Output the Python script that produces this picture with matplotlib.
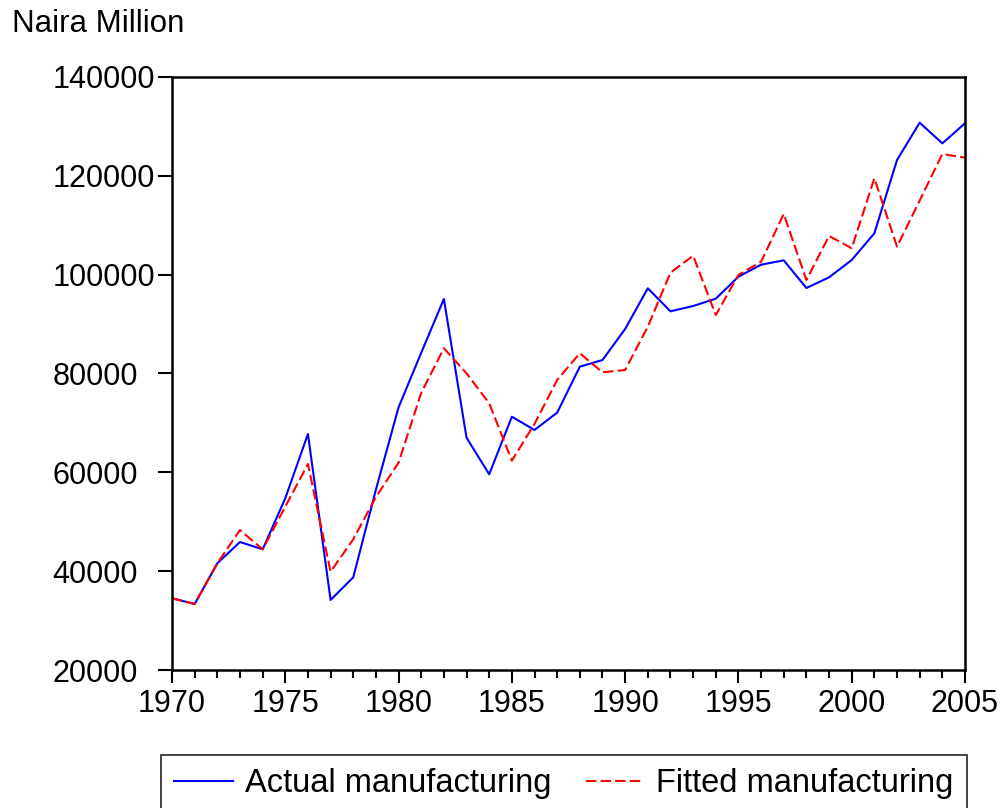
import matplotlib
matplotlib.use('Agg')
import matplotlib.pyplot as plt
from matplotlib.ticker import MultipleLocator

plt.rcParams['font.family'] = ['Liberation Sans', 'DejaVu Sans']

years = list(range(1970, 2006))
actual = [34510, 33360, 41590, 45900, 44420, 54750, 67760, 34170, 38760, 56500,
          73160, 84200, 95080, 67010, 59600, 71260, 68570, 72080, 81380, 82730,
          89010, 97240, 92580, 93660, 95140, 99590, 102020, 102900, 97300, 99460,
          102970, 108370, 123210, 130760, 126570, 130630]
fitted = [34510, 33360, 41590, 48330, 44420, 53050, 61690, 39890, 46450, 55000,
          61960, 76100, 85110, 80040, 73970, 62360, 69800, 78690, 84090, 80250,
          80710, 89480, 100400, 103840, 91840, 99940, 102620, 112280, 98920, 107830,
          105340, 119510, 105670, 115000, 124420, 123680]

W, H = 1000, 808
fig = plt.figure(figsize=(W / 100, H / 100), dpi=100)
ax = fig.add_axes([172 / W, 1 - 670 / H, (965 - 172) / W, (670 - 77) / H])

ax.plot(years, actual, color='blue', lw=1.5, label='Actual manufacturing')
ax.plot(years, fitted, color='red', lw=1.5, ls=(0, (5, 2)), label='Fitted manufacturing')

ax.set_xlim(1970, 2005)
ax.set_ylim(20000, 140000)
ax.xaxis.set_major_locator(MultipleLocator(5))
ax.xaxis.set_minor_locator(MultipleLocator(1))
ax.yaxis.set_major_locator(MultipleLocator(20000))

for s in ax.spines.values():
    s.set_linewidth(1.8)
    s.set_color('black')
ax.tick_params(which='both', direction='out', top=False, right=False, width=1.5,
               labelsize=22)
ax.tick_params(axis='x', which='major', length=9, pad=5)
ax.tick_params(axis='x', which='minor', length=6)
# y labels are left aligned at a fixed column
ax.tick_params(axis='y', which='major', length=10, pad=76)
for lab in ax.get_yticklabels():
    lab.set_horizontalalignment('left')
    lab.set_verticalalignment('center_baseline')

fig.text(12 / W, 1 - 24 / H, 'Naira Million', fontsize=22.5, ha='left', va='center')

leg = fig.legend(loc='upper left', bbox_to_anchor=(161 / W, 1 - 755 / H), ncol=2,
                 fontsize=23.5, frameon=True, fancybox=False, edgecolor='black',
                 handlelength=1.8, handletextpad=0.37, columnspacing=1.05,
                 borderpad=0.4, borderaxespad=0)
leg.get_frame().set_linewidth(1.3)

fig.savefig('out.png', dpi=100)
